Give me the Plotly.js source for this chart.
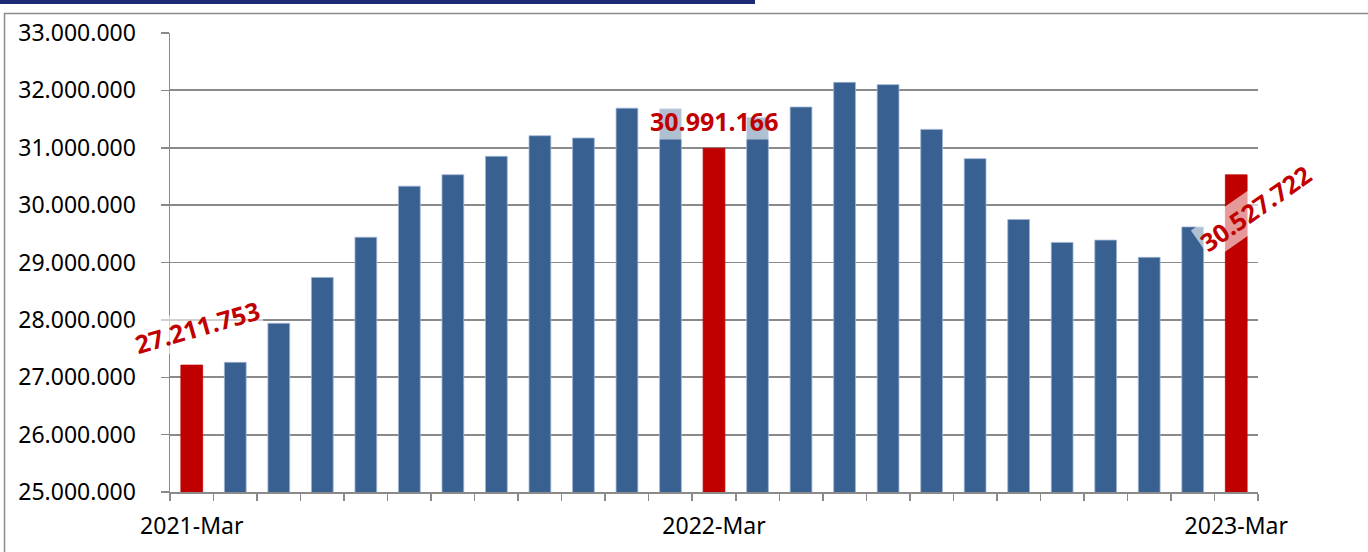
<!DOCTYPE html>
<html>
<head>
<meta charset="utf-8">
<script src="https://cdn.plot.ly/plotly-3.0.1.min.js"></script>
<style>
html,body{margin:0;padding:0;background:#ffffff;}
#chart{width:1368px;height:552px;}
</style>
</head>
<body>
<div id="chart"></div>
<script>
// ---- data ----
const categories = [
  '2021-Mar','2021-Apr','2021-May','2021-Jun','2021-Jul','2021-Aug','2021-Sep',
  '2021-Oct','2021-Nov','2021-Dec','2022-Jan','2022-Feb','2022-Mar','2022-Apr',
  '2022-May','2022-Jun','2022-Jul','2022-Aug','2022-Sep','2022-Oct','2022-Nov',
  '2022-Dec','2023-Jan','2023-Feb','2023-Mar'
];
const values = [
  27211753, 27260000, 27940000, 28740000, 29440000, 30330000, 30530000,
  30850000, 31210000, 31170000, 31690000, 31680000, 30991166, 31530000,
  31710000, 32140000, 32100000, 31320000, 30810000, 29750000, 29350000,
  29390000, 29090000, 29620000, 30527722
];
const highlighted = ['2021-Mar', '2022-Mar', '2023-Mar'];
const yTicks = [25000000, 26000000, 27000000, 28000000, 29000000, 30000000, 31000000, 32000000, 33000000];

// ---- styles ----
const BLUE = '#386192';
const RED = '#C00000';
const GRID = '#8a8a8a';
const FONT = 'Noto Sans, Open Sans, sans-serif';
// label placement styles for the highlighted bars (angle, pixel shifts)
const labelStyles = [
  {angle: -16, dx: 5, dy: 38},
  {angle: 0, dx: 0, dy: 27},
  {angle: -35, dx: 19, dy: -33}
];

function fmt(v) {
  return String(Math.round(v)).replace(/\B(?=(\d{3})+(?!\d))/g, '.');
}

const isHi = categories.map(c => highlighted.indexOf(c) >= 0);

const trace = {
  type: 'bar',
  x: categories,
  y: values,
  marker: {
    color: isHi.map(h => h ? RED : BLUE),
    line: {color: isHi.map(h => h ? RED : '#9fb4d2'), width: 0.8}
  },
  hoverinfo: 'x+y'
};

const annotations = highlighted.map((c, k) => {
  const i = categories.indexOf(c);
  const s = labelStyles[k];
  return {
    x: c, y: values[i], xref: 'x', yref: 'y',
    text: '<b>' + fmt(values[i]) + '</b>',
    showarrow: false,
    textangle: s.angle,
    xanchor: 'center', yanchor: 'middle',
    xshift: s.dx, yshift: s.dy,
    font: {family: FONT, size: 25, color: RED},
    bgcolor: 'rgba(255,255,255,0.6)',
    borderpad: 1
  };
});

const plotLeft = 170, plotRight = 1258, plotTop = 32.5, plotBottom = 492;
const W = 1368, H = 552;
const pw = plotRight - plotLeft, ph = plotBottom - plotTop;
const px = v => (v - plotLeft) / pw;
const py = v => (plotBottom - v) / ph;

const layout = {
  width: W, height: H,
  margin: {l: plotLeft, r: W - plotRight, t: plotTop, b: H - plotBottom, pad: 0},
  paper_bgcolor: '#ffffff',
  plot_bgcolor: '#ffffff',
  separators: ',.',
  showlegend: false,
  bargap: 0.5,
  font: {family: FONT, size: 22, color: '#000000'},
  xaxis: {
    type: 'category',
    range: [-0.5, categories.length - 0.5],
    autorange: false,
    tickmode: 'array',
    tickvals: categories,
    ticktext: categories.map(c => highlighted.indexOf(c) >= 0 ? c : ''),
    tickangle: 0,
    tickson: 'boundaries',
    ticks: 'outside',
    ticklen: 7,
    tickwidth: 1.5,
    tickcolor: GRID,
    showline: true,
    linecolor: GRID,
    linewidth: 1.5,
    showgrid: false,
    zeroline: false,
    ticklabelstandoff: 13,
    tickfont: {family: FONT, size: 23, color: '#000000'}
  },
  yaxis: {
    range: [25000000, 33000000],
    autorange: false,
    tickmode: 'array',
    tickvals: yTicks,
    tickformat: ',d',
    ticks: 'outside',
    ticklen: 8,
    tickwidth: 1.5,
    tickcolor: GRID,
    showline: true,
    linecolor: GRID,
    linewidth: 1.5,
    showgrid: true,
    gridcolor: GRID,
    gridwidth: 1.8,
    zeroline: false,
    ticklabelstandoff: 20,
    tickfont: {family: FONT, size: 23, color: '#000000'}
  },
  annotations: annotations,
  shapes: [
    {type: 'rect', xref: 'paper', yref: 'paper',
     x0: px(4.5), x1: px(W + 10), y0: py(H + 10), y1: py(13),
     line: {color: GRID, width: 1.5}, fillcolor: 'rgba(0,0,0,0)', layer: 'below'},
    {type: 'rect', xref: 'paper', yref: 'paper',
     x0: px(-2), x1: px(755), y0: py(3.5), y1: py(-2),
     line: {width: 0}, fillcolor: '#1c2a73', layer: 'above'}
  ]
};

Plotly.newPlot('chart', [trace], layout, {displayModeBar: false, staticPlot: true});
</script>
</body>
</html>
